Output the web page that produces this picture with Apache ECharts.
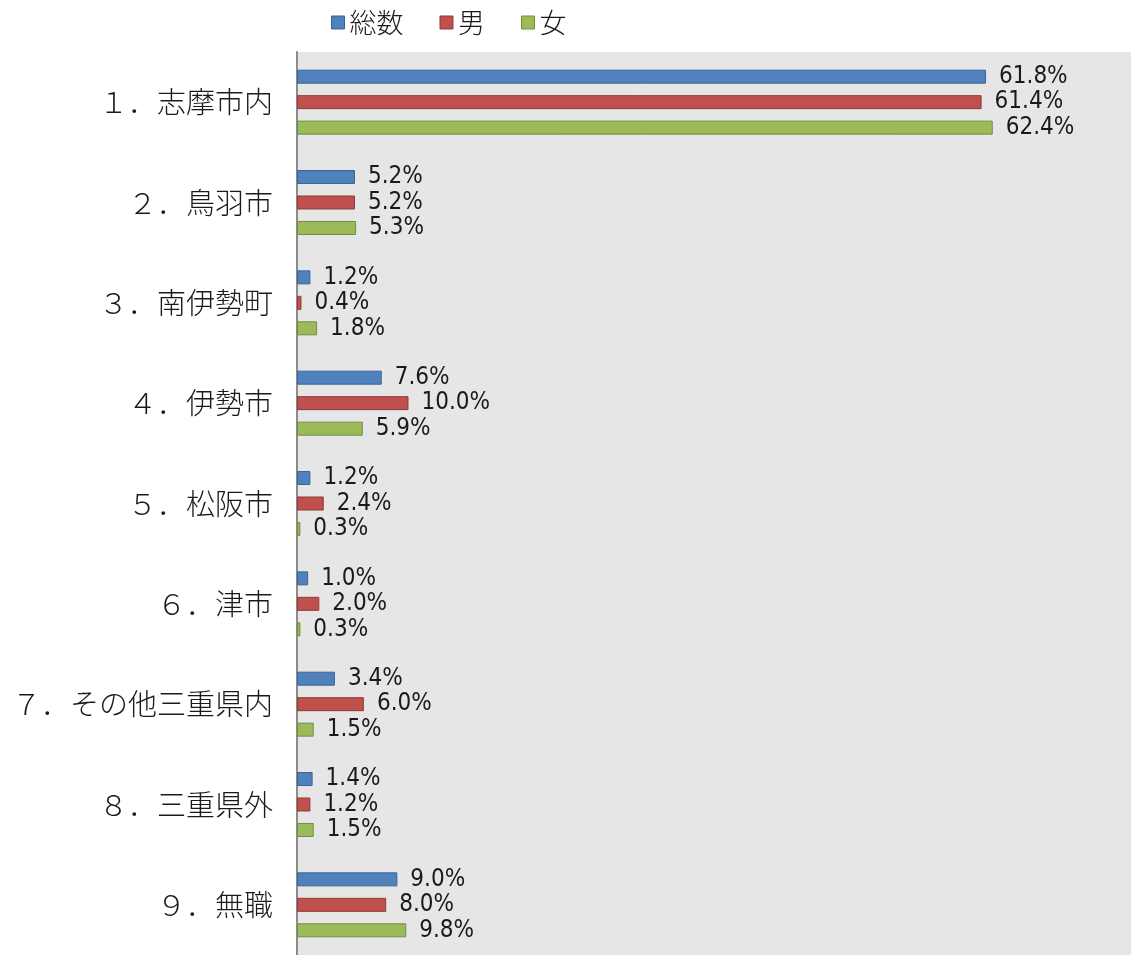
<!DOCTYPE html>
<html>
<head>
<meta charset="utf-8">
<script src="https://cdn.jsdelivr.net/npm/echarts@6/dist/echarts.min.js"></script>
<style>
  html, body { margin: 0; padding: 0; background: #ffffff; }
  #chart { width: 1131px; height: 955px; }
</style>
</head>
<body>
<div id="chart"></div>
<script>
// 勤務地（居住地別）構成比
const categories = ['１．志摩市内', '２．鳥羽市', '３．南伊勢町', '４．伊勢市', '５．松阪市', '６．津市', '７．その他三重県内', '８．三重県外', '９．無職'];
const seriesNames = ['総数', '男', '女'];
const totalValues = [61.8, 5.2, 1.2, 7.6, 1.2, 1.0, 3.4, 1.4, 9.0];
const maleValues = [61.4, 5.2, 0.4, 10.0, 2.4, 2.0, 6.0, 1.2, 8.0];
const femaleValues = [62.4, 5.3, 1.8, 5.9, 0.3, 0.3, 1.5, 1.5, 9.8];

const fills = ['#4F81BD', '#C0504D', '#9BBB59'];
const borders = ['#3A6496', '#8E3B39', '#738C43'];
const valueFont = "'Liberation Sans Narrow', 'DejaVu Sans Condensed', 'Noto Sans CJK JP', sans-serif";
const jpFont = "'Noto Sans CJK JP', sans-serif";

const chart = echarts.init(document.getElementById('chart'), null, { renderer: 'canvas' });

function makeSeries(name, values, idx) {
  return {
    name: name,
    type: 'bar',
    data: values,
    barWidth: 14,
    barGap: '82%',
    itemStyle: { color: fills[idx], borderColor: borders[idx], borderWidth: 1 },
    label: {
      show: true,
      position: 'right',
      distance: 13,
      color: '#1a1a1a',
      fontFamily: valueFont,
      fontSize: 24,
      formatter: p => p.value.toFixed(1) + '%'
    },
    animation: false
  };
}

chart.setOption({
  animation: false,
  legend: {
    top: 4,
    left: 326,
    itemWidth: 13,
    itemHeight: 13,
    itemGap: 36,
    icon: 'rect',
    textStyle: { fontFamily: jpFont, fontSize: 27, fontWeight: 300, color: '#1a1a1a' },
    data: seriesNames.map((n, i) => ({ name: n, itemStyle: { color: fills[i], borderColor: borders[i], borderWidth: 1 } }))
  },
  grid: {
    left: 297, top: 52, right: -2, bottom: 0,
    show: true, backgroundColor: '#E6E6E6', borderWidth: 0
  },
  xAxis: {
    type: 'value',
    min: 0, max: 74.8,
    axisLine: { show: false },
    axisTick: { show: false },
    axisLabel: { show: false },
    splitLine: { show: false }
  },
  yAxis: {
    type: 'category',
    data: categories,
    inverse: true,
    axisLine: { show: true, lineStyle: { color: '#8C8C8C', width: 2 } },
    axisTick: { show: false },
    axisLabel: { margin: 24, fontFamily: jpFont, fontSize: 29, fontWeight: 300, color: '#1a1a1a' }
  },
  series: [
    makeSeries(seriesNames[0], totalValues, 0),
    makeSeries(seriesNames[1], maleValues, 1),
    makeSeries(seriesNames[2], femaleValues, 2)
  ]
});
</script>
</body>
</html>
